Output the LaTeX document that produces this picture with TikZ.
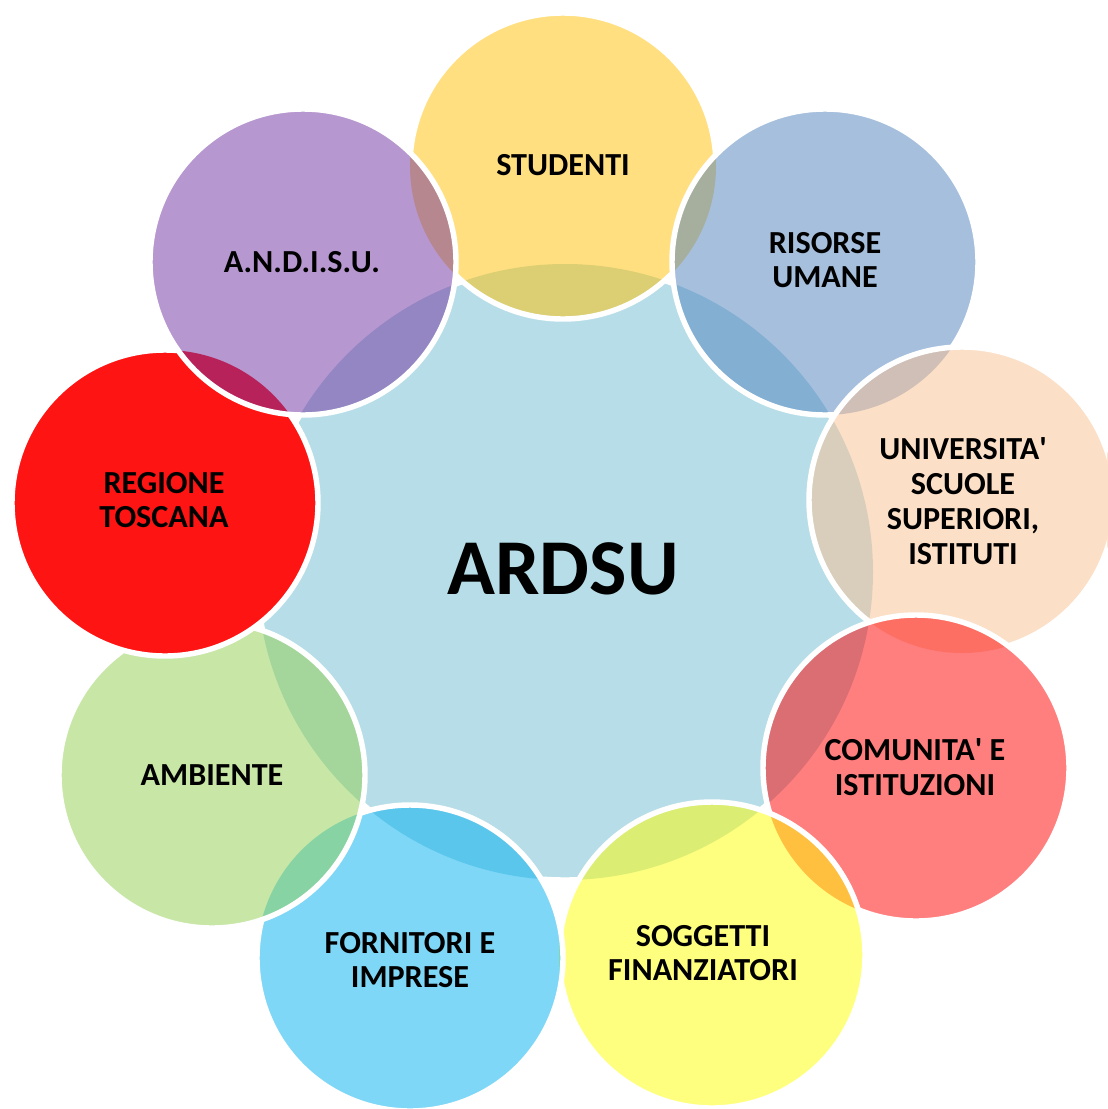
\documentclass[tikz,border=0pt]{standalone}
\usepackage{fontspec}
\setmainfont{Carlito}
\usepackage{tikz}

\definecolor{hub}{RGB}{183,222,232}
\definecolor{oro}{RGB}{255,192,0}
\definecolor{blu}{RGB}{79,129,189}
\definecolor{pesca}{RGB}{250,192,144}
\definecolor{rosso}{RGB}{255,0,0}
\definecolor{giallo}{RGB}{255,255,0}
\definecolor{azzurro}{RGB}{0,176,240}
\definecolor{verde}{RGB}{146,208,80}
\definecolor{regione}{RGB}{255,20,20}
\definecolor{viola}{RGB}{112,48,160}

\begin{document}
\begin{tikzpicture}[x=0.02cm,y=-0.02cm,
rim/.style={draw=white,line width=3.1pt},
lbl/.style={font=\bfseries\fontsize{18.3}{19.8}\selectfont,align=center,text=black}]
\useasboundingbox (0,0) rectangle (1107,1109);
\fill[white] (0,0) rectangle (1107,1109);
\def\rr{153}

\coordinate (ardsu) at (565,572);
\coordinate (stud) at (563,166);
\coordinate (ris) at (825,262);
\coordinate (univ) at (962,500);
\coordinate (com) at (916,768);
\coordinate (sogg) at (712,955);
\coordinate (forn) at (410,958);
\coordinate (amb) at (212,775);
\coordinate (reg) at (165,503);
\coordinate (andisu) at (303,262);

% fills
\fill[hub] (ardsu) circle[radius=308];
\foreach \c/\col/\op in {stud/oro/0.5,ris/blu/0.5,univ/pesca/0.5,com/rosso/0.5,sogg/giallo/0.5,forn/azzurro/0.5,amb/verde/0.5,reg/regione/1,andisu/viola/0.5}{
\fill[\col,fill opacity=\op] (\c) circle[radius=\rr];
}

% white rims, hidden under the circles drawn later
\begin{scope}[even odd rule]
\clip (0,0) rectangle (1107,1109)
 (stud) circle[radius=\rr] (ris) circle[radius=\rr] (univ) circle[radius=\rr]
 (com) circle[radius=\rr] (sogg) circle[radius=\rr] (forn) circle[radius=\rr]
 (amb) circle[radius=\rr] (reg) circle[radius=\rr] (andisu) circle[radius=\rr];
\draw[rim] (ardsu) circle[radius=308];
\end{scope}
\begin{scope}[even odd rule]
\clip (0,0) rectangle (1107,1109) (ris) circle[radius=\rr] (andisu) circle[radius=\rr];
\draw[rim] (stud) circle[radius=\rr];
\end{scope}
\foreach \c/\nx in {ris/univ,univ/com,com/sogg,sogg/forn,forn/amb,amb/reg,reg/andisu}{
\begin{scope}[even odd rule]
\clip (0,0) rectangle (1107,1109) (\nx) circle[radius=\rr];
\draw[rim] (\c) circle[radius=\rr];
\end{scope}
}
\draw[rim] (andisu) circle[radius=\rr];

% labels
\node[font=\bfseries\fontsize{45}{50}\selectfont] (t-ardsu) at (563,569) {ARDSU};
\node[lbl] (t-stud) at (563,165) {STUDENTI};
\node[lbl] (t-ris) at (825,260) {RISORSE\\UMANE};
\node[lbl] (t-univ) at (963,501) {UNIVERSITA\textquotesingle\\SCUOLE\\SUPERIORI,\\ISTITUTI};
\node[lbl] (t-com) at (915,767) {COMUNITA\textquotesingle{} E\\ISTITUZIONI};
\node[lbl] (t-sogg) at (703,953) {SOGGETTI\\FINANZIATORI};
\node[lbl] (t-forn) at (410,960) {FORNITORI E\\IMPRESE};
\node[lbl] (t-amb) at (212,775) {AMBIENTE};
\node[lbl] (t-reg) at (164,500) {REGIONE\\TOSCANA};
\node[lbl] (t-andisu) at (302,262) {A.N.D.I.S.U.};
\end{tikzpicture}
\end{document}
